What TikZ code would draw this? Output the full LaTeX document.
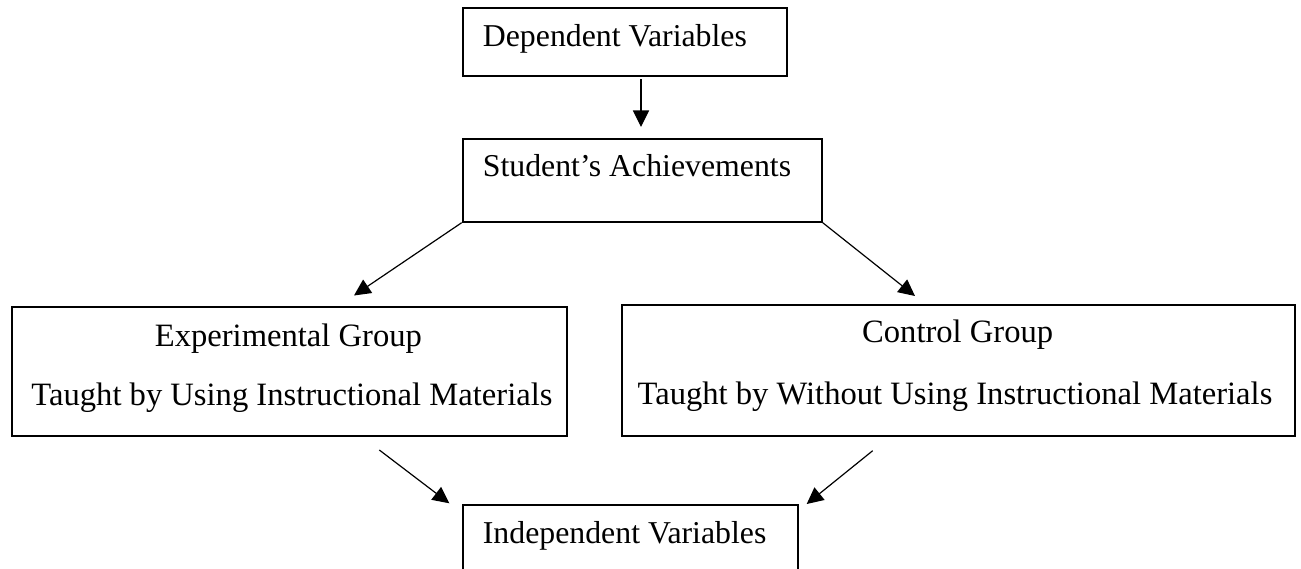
\documentclass[tikz,border=0pt]{standalone}
\usepackage{fontspec}
\setmainfont{Liberation Serif}
\usetikzlibrary{arrows.meta}
\begin{document}
\begin{tikzpicture}[x=1pt,y=-1pt,
  box/.style={draw=black,line width=2pt,inner sep=0pt,anchor=north west},
  lbl/.style={inner sep=0pt,font=\fontsize{31.8}{36}\selectfont},
  glbl/.style={inner sep=0pt,font=\fontsize{32.6}{38}\selectfont},
  arr/.style={line width=1.2pt,-{Triangle[length=16.5pt,width=16pt]}}]
\useasboundingbox (0,0) rectangle (1301,569);
\clip (0,0) rectangle (1301,569);
% boxes
\node[box,minimum width=324pt,minimum height=67.7pt] (dep) at (461.7,7.3) {};
\node[box,minimum width=359pt,minimum height=82.4pt] (stu) at (461.7,138.3) {};
\node[box,minimum width=554.7pt,minimum height=129pt] (exp) at (11,306) {};
\node[box,minimum width=673.3pt,minimum height=131pt] (ctl) at (621,304) {};
\node[box,minimum width=335.6pt,minimum height=100pt] (ind) at (461.7,504) {};
% texts
\node[lbl,anchor=base west] (depT) at (482.7,46.7) {Dependent Variables};
\node[lbl,anchor=base west] (stuT) at (482.7,176.7) {Student’s Achievements};
\node[glbl,anchor=base] (expT1) at (288.4,346.7) {Experimental Group};
\node[glbl,anchor=base] (expT2) at (292,405.7) {Taught by Using Instructional Materials};
\node[glbl,anchor=base] (ctlT1) at (957.7,342) {Control Group};
\node[glbl,anchor=base] (ctlT2) at (955,404.5) {Taught by Without Using Instructional Materials};
\node[lbl,anchor=base west] (indT) at (482.7,543.3) {Independent Variables};
% connector ends
\coordinate (d1) at (641,79.3);
\coordinate (d2) at (641,127);
\coordinate (e1) at (354,295.5);
\coordinate (c1) at (915,296);
\coordinate (b1) at (379.3,450);
\coordinate (b2) at (449.3,503.3);
\coordinate (b3) at (872.7,450.7);
\coordinate (b4) at (806.7,504);
% connectors
\draw[arr] (d1) -- (d2);
\draw[arr] (stu.south west) -- (e1);
\draw[arr] (stu.south east) -- (c1);
\draw[arr] (b1) -- (b2);
\draw[arr] (b3) -- (b4);
\end{tikzpicture}
\end{document}
